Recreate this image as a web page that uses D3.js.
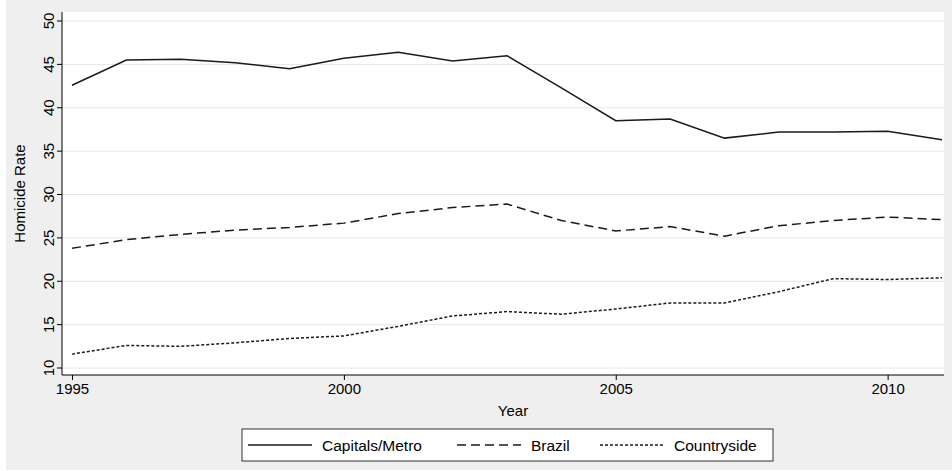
<html>
<head>
<meta charset="utf-8">
<script src="https://cdnjs.cloudflare.com/ajax/libs/d3/7.8.5/d3.min.js"></script>
<style>
body { margin:0; background:#fff; font-family:"Liberation Sans", Arial, sans-serif; }
</style>
</head>
<body>
<div id="chart"></div>
<script>
var years = d3.range(1995, 2012);
var capitals = [42.6,45.5,45.6,45.2,44.5,45.7,46.4,45.4,46.0,42.3,38.5,38.7,36.5,37.2,37.2,37.3,36.3];
var brazil = [23.8,24.8,25.4,25.9,26.2,26.7,27.8,28.5,28.9,27.0,25.8,26.3,25.2,26.4,27.0,27.4,27.1];
var countryside = [11.6,12.6,12.5,12.9,13.4,13.7,14.8,16.0,16.5,16.2,16.8,17.5,17.5,18.8,20.3,20.2,20.4];
var seriesNames = ["Capitals/Metro", "Brazil", "Countryside"];
var yTicks = [10,15,20,25,30,35,40,45,50];
var xTicks = [1995,2000,2005,2010];

var W = 952, H = 471;
var svg = d3.select("#chart").append("svg").attr("width", W).attr("height", H);
svg.append("rect").attr("width", W).attr("height", H).attr("fill", "#fff");
svg.append("rect").attr("x", 6).attr("width", W-6).attr("height", H-1).attr("fill", "#efefef");
var pl = 62, pr = 944, pt = 12, pb = 375;
svg.append("rect").attr("x", pl).attr("y", pt).attr("width", pr-pl).attr("height", pb-pt).attr("fill", "#fff");

var x = d3.scaleLinear().domain([1995, 2011]).range([72, 942]);
var y = d3.scaleLinear().domain([10, 50]).range([368, 21]);

var g = svg.append("g");
yTicks.forEach(function(t){
  g.append("line").attr("x1", pl).attr("x2", pr).attr("y1", y(t)).attr("y2", y(t))
   .attr("stroke", "#e6e6e6").attr("stroke-width", 1);
});

var yAxis = svg.append("g").attr("transform", "translate(" + pl + ",0)")
  .call(d3.axisLeft(y).tickValues(yTicks).tickSize(5).tickPadding(3));
yAxis.select(".domain").attr("d", "M0," + pt + "V" + pb).attr("stroke", "#000");
yAxis.selectAll(".tick").attr("transform", null);
yAxis.selectAll(".tick line").attr("y1", function(d){ return y(d); }).attr("y2", function(d){ return y(d); });
yAxis.selectAll("text").attr("font-size", 15).attr("text-anchor", "middle").attr("dy", "0.35em")
  .each(function(d){ d3.select(this).attr("x", 0).attr("y", 0).attr("transform", "translate(-13," + y(d) + ") rotate(-90)"); });

var xAxis = svg.append("g").attr("transform", "translate(0," + pb + ")")
  .call(d3.axisBottom(x).tickValues(xTicks).tickFormat(d3.format("d")).tickSize(5).tickPadding(3));
xAxis.select(".domain").attr("d", "M" + pl + ",0H" + pr);
xAxis.selectAll("text").attr("font-size", 15);

svg.append("text").attr("x", (pl+pr)/2 + 10).attr("y", 416).attr("text-anchor", "middle")
  .attr("font-size", 15).text("Year");
svg.append("text").attr("transform", "translate(25," + (pt+pb)/2 + ") rotate(-90)")
  .attr("text-anchor", "middle").attr("font-size", 15).text("Homicide Rate");

var dashes = [null, "9,5", "3,2"];
var data = [capitals, brazil, countryside];
var line = d3.line().x(function(d, i){ return x(years[i]); }).y(function(d){ return y(d); });
data.forEach(function(s, k){
  svg.append("path").attr("d", line(s)).attr("fill", "none").attr("stroke", "#1a1a1a")
    .attr("stroke-width", 1.5).attr("stroke-dasharray", dashes[k]);
});

var lg = svg.append("g");
lg.append("rect").attr("x", 242).attr("y", 429).attr("width", 531).attr("height", 32)
  .attr("fill", "#fff").attr("stroke", "#333");
var lx = [248, 457, 600];
seriesNames.forEach(function(n, k){
  lg.append("line").attr("x1", lx[k]).attr("x2", lx[k] + 64).attr("y1", 445).attr("y2", 445)
    .attr("stroke", "#1a1a1a").attr("stroke-width", 1.5).attr("stroke-dasharray", dashes[k]);
  lg.append("text").attr("x", lx[k] + 74).attr("y", 450.5).attr("font-size", 15.5).text(n);
});
</script>
</body>
</html>
